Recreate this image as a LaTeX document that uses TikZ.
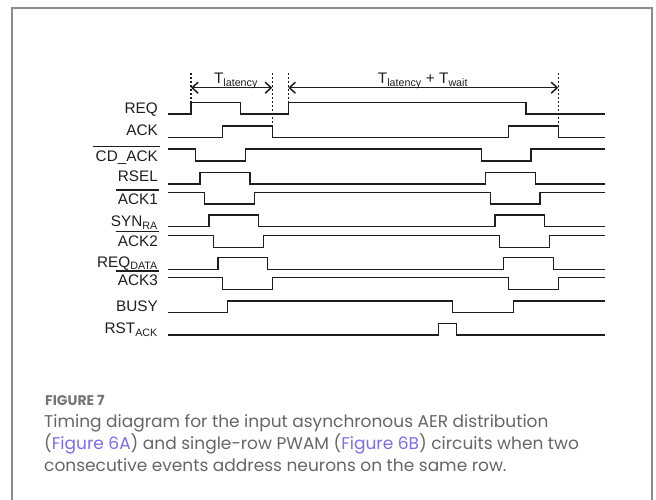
\documentclass[tikz,border=0pt]{standalone}
\usepackage{xcolor}
\usepackage{fontspec}
\setmainfont{Liberation Sans}
\newfontfamily\capfont{Poppins}
\usepackage{tikz}
\usetikzlibrary{arrows.meta}
\definecolor{wire}{HTML}{1E1E1E}
\definecolor{framegray}{HTML}{8C8C8C}
\definecolor{captext}{HTML}{666666}
\definecolor{figlink}{HTML}{7B6CF0}

\begin{document}
\begin{tikzpicture}[
    x=1pt, y=-1pt,
    signal/.style  = {draw=wire, line width=1.5pt, line join=miter},
    sig/.style     = {anchor=base east, inner sep=0pt, text=wire,
                      font=\fontsize{15.3}{18}\selectfont},
    bar/.style     = {draw=wire, line width=1.3pt},
    guide/.style   = {draw=wire, line width=1.5pt, dash pattern=on 2pt off 2pt},
    span/.style    = {draw=wire, line width=1.5pt,
                      {Straight Barb[length=6pt,width=11pt]}-{Straight Barb[length=6pt,width=11pt]}},
    tlbl/.style    = {anchor=base, inner sep=0pt, text=wire,
                      font=\fontsize{15.3}{18}\selectfont},
    capline/.style = {anchor=base west, inner sep=0pt, text=captext,
                      font=\capfont\fontsize{17}{20}\selectfont}
  ]

  \useasboundingbox (0,0) rectangle (656,499);
  \clip (0,0) rectangle (656,499);

  % Frame
  \draw[framegray, line width=1.5pt] (12,8) rectangle (652,530);

  % Time marks
  \coordinate (m1) at (191,87.7);
  \coordinate (m2) at (272.3,87.7);
  \coordinate (m3) at (288.3,87.7);
  \coordinate (m4) at (558.3,87.7);

  \draw[guide] (191,73)   -- (191,102.5);
  \draw[guide] (272.3,73) -- (272.3,137.3);
  \draw[guide] (288.3,73) -- (288.3,102.5);
  \draw[guide] (558.3,73) -- (558.3,137.3);

  \draw[span] (m1) -- (m2);
  \draw[span] (m3) -- (m4);
  \node[tlbl] (tlat)  at (236,83.3) {T\textsubscript{latency}};
  \node[tlbl] (twait) at (423,83.3) {T\textsubscript{latency} + T\textsubscript{wait}};

  % Labels
  \node[sig] (req)     at (158,113.5) {REQ};
  \node[sig] (ack)     at (158,135.5) {ACK};
  \node[sig] (cdack)   at (158,161.2) {CD\_ACK};
  \node[sig] (rsel)    at (158,181.2) {RSEL};
  \node[sig] (ackone)  at (158,204.5) {ACK1};
  \node[sig] (synra)   at (158,226.7) {SYN\textsubscript{RA}};
  \node[sig] (acktwo)  at (158,246.0) {ACK2};
  \node[sig] (reqdata) at (158,267.3) {REQ\textsubscript{DATA}};
  \node[sig] (ackthr)  at (158,285.5) {ACK3};
  \node[sig] (busy)    at (158,311.5) {BUSY};
  \node[sig] (rstack)  at (158,333.5) {RST\textsubscript{ACK}};

  \draw[bar] ([xshift=-3pt,yshift=3.5pt]cdack.north west)  -- ([xshift=2pt,yshift=3.5pt]cdack.north east);
  \draw[bar] ([xshift=-2pt,yshift=3.5pt]ackone.north west) -- ([xshift=1pt,yshift=3.5pt]ackone.north east);
  \draw[bar] ([xshift=-2pt,yshift=3.5pt]acktwo.north west) -- ([xshift=1pt,yshift=3.5pt]acktwo.north east);
  \draw[bar] ([xshift=-2pt,yshift=3.5pt]ackthr.north west) -- ([xshift=1pt,yshift=3.5pt]ackthr.north east);

  % Waveforms
  \draw[signal] (168,114)   -| (191,102.5)   -| (240.7,114)   -| (288.3,102.5) -| (526,114)     -- (605,114);
  \draw[signal] (168,137.3) -| (222.5,126)   -| (272.3,137.3) -| (508.3,126)   -| (558.3,137.3) -- (605,137.3);
  \draw[signal] (168,149)   -| (195.5,161)   -| (245.5,149)   -| (481.7,161)   -| (531,149)     -- (605,149);
  \draw[signal] (168,184)   -| (200,172.3)   -| (250,184)     -| (485.7,172.3) -| (535.7,184)   -- (605,184);
  \draw[signal] (168,192.7) -| (204.5,204)   -| (254.3,192.7) -| (490.7,204)   -| (540,192.7)   -- (605,192.7);
  \draw[signal] (168,226.7) -| (209,215)     -| (258.5,226.7) -| (495,215)     -| (544.7,226.7) -- (605,226.7);
  \draw[signal] (168,235.7) -| (213.5,247.3) -| (263.3,235.7) -| (499.3,247.3) -| (549.3,235.7) -- (605,235.7);
  \draw[signal] (168,269.3) -| (218,257.7)   -| (267.7,269.3) -| (503.3,257.7) -| (553.3,269.3) -- (605,269.3);
  \draw[signal] (168,277.3) -| (222.5,289.3) -| (272.3,277.3) -| (508.3,289.3) -| (558.3,277.3) -- (605,277.3);
  \draw[signal] (168,312.3) -| (227.3,301)   -| (452.3,312.3) -| (513.3,301)   -- (605,301);
  \draw[signal] (168,335)   -| (438.3,323.3) -| (456.7,335)   -- (605,335);

  % Caption
  \node[capline, font=\capfont\bfseries\fontsize{14}{16}\selectfont, text=captext!90]
        (fig) at (45,405) {FIGURE 7};
  \node[capline] (capa) at (44,427.5) {Timing diagram for the input asynchronous AER distribution};
  \node[capline] (capb) at (44,449.5) {(\textcolor{figlink}{Figure 6A}) and single-row PWAM (\textcolor{figlink}{Figure 6B}) circuits when two};
  \node[capline] (capc) at (44,471.5) {consecutive events address neurons on the same row.};
\end{tikzpicture}
\end{document}
